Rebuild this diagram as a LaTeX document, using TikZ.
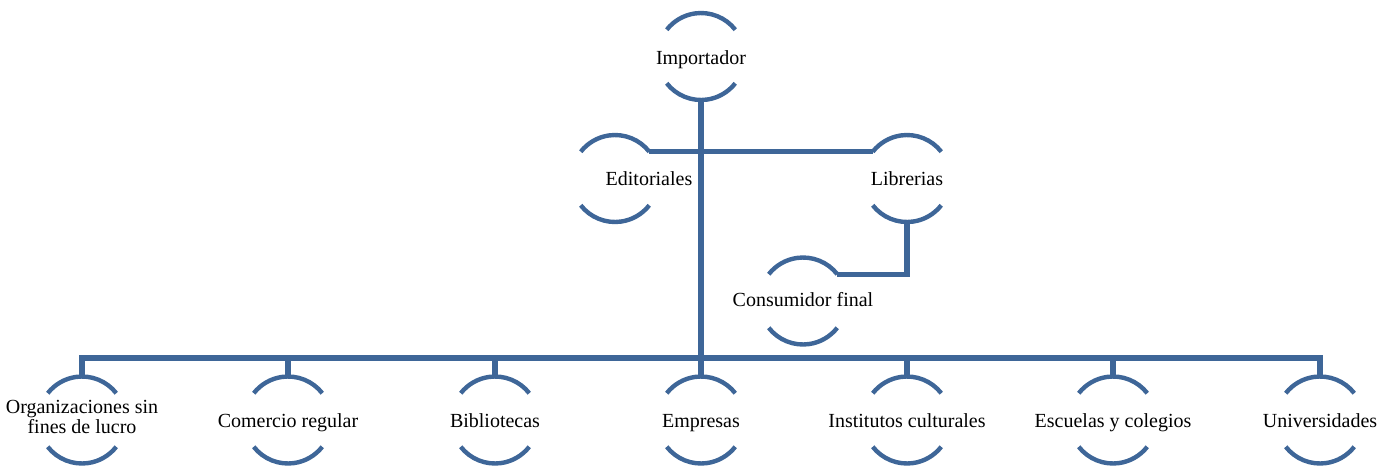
\documentclass[tikz,border=0pt]{standalone}
\usepackage{fontspec}
\setmainfont{Liberation Serif}
\definecolor{hblue}{RGB}{62,102,152}
\begin{document}
\begin{tikzpicture}[x=0.75pt,y=-0.75pt,
  circ/.style={circle,minimum size=65.25pt,inner sep=0pt,outer sep=0pt},
  txt/.style={font=\fontsize{15}{14.5}\selectfont,align=center,text=black,inner sep=0pt,anchor=base},
  arcline/.style={draw=hblue,line width=3.3pt},
  conn/.style={draw=hblue,line width=3.9pt,line join=miter}]
\useasboundingbox (0,0) rectangle (1387,465);
% circles
\node[circ] (imp) at (701,56.5) {};
\node[circ] (edi) at (615,178.5) {};
\node[circ] (lib) at (907,178.5) {};
\node[circ] (con) at (803,301) {};
\node[circ] (org) at (82,420) {};
\node[circ] (com) at (288,420) {};
\node[circ] (bib) at (495,420) {};
\node[circ] (emp) at (701,420) {};
\node[circ] (ins) at (907,420) {};
\node[circ] (esc) at (1113,420) {};
\node[circ] (uni) at (1320,420) {};
\foreach \n in {imp,edi,lib,con,org,com,bib,emp,ins,esc,uni}{
  \draw[arcline] (\n.38) arc[start angle=38,end angle=142,radius=32.6pt];
  \draw[arcline] (\n.218) arc[start angle=218,end angle=322,radius=32.6pt];
}
% texts
\node[txt] (timp) at (701,64.5) {Importador};
\node[txt] (tedi) at (649,185) {Editoriales};
\node[txt] (tlib) at (907,185) {Librerias};
\node[txt] (tcon) at (803,306.5) {Consumidor final};
\node[txt] (torg) at (82,433) {Organizaciones sin\\fines de lucro};
\node[txt] (tcom) at (288,427) {Comercio regular};
\node[txt] (tbib) at (495,427) {Bibliotecas};
\node[txt] (temp) at (701,427) {Empresas};
\node[txt] (tins) at (907,427) {Institutos culturales};
\node[txt] (tesc) at (1113,427) {Escuelas y colegios};
\node[txt] (tuni) at (1320,427) {Universidades};
% connectors
\coordinate (busc) at (701,358);
\draw[conn] (edi.38) -- (lib.142);
\draw[conn] (lib.south) |- (con.38);
\draw[conn] (imp.south) -- (busc);
\foreach \b in {org,com,bib,emp,ins,esc,uni}{
  \draw[conn] (busc) -| (\b.north);
}
\end{tikzpicture}
\end{document}
